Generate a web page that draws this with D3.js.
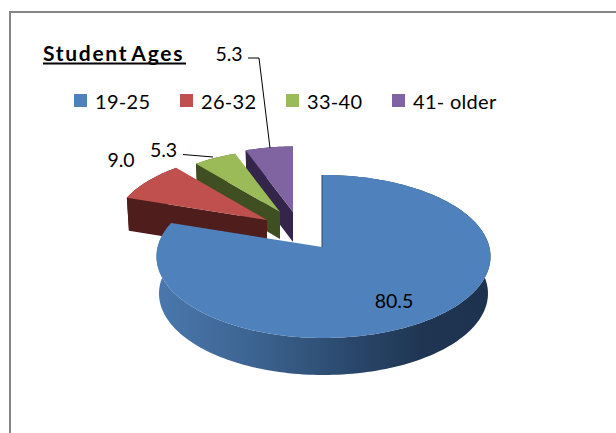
<!DOCTYPE html>
<html><head><meta charset="utf-8">
<script src="https://cdnjs.cloudflare.com/ajax/libs/d3/7.8.5/d3.min.js"></script>
<style>html,body{margin:0;padding:0;background:#fff}svg{display:block}text{font-family:Lato,sans-serif;fill:#000}</style>
</head><body><svg id="c" width="616" height="433"></svg>
<script>
const titleText = "Student Ages";
const categories = ["19-25","26-32","33-40","41- older"];
const values = [80.5,9.0,5.3,5.3];
const labels = ["80.5","9.0","5.3","5.3"];
const topColors = ["#4f81bd","#c0504d","#9bbb59","#8064a2"];
const sideColors = ["#1f3552","#4f1d1b","#3f4f21","#33264a"];
// per-slice explosion layout
const explodeDx = [0,-55,-42,-29];
const explodeDy = [0,-27,-35,-35];
const sliceScale = [1,0.93,0.86,0.91];
const sliceDepth = [37,33,27,30];
const apex = {x:322,y:247}, ell = {x:323.5,y:256.5,rx:167,ry:81.5}, tilt = 0.45;

const svg = d3.select("#c");
const defs = svg.append("defs");
const grad = defs.append("linearGradient").attr("id","blueSide").attr("x1",0).attr("x2",1).attr("y1",0).attr("y2",0);
[[0,"#4a78ad"],[0.3,"#3c6390"],[0.6,"#294669"],[0.8,"#1f3552"],[1,"#1d324e"]].forEach(s=>grad.append("stop").attr("offset",s[0]).attr("stop-color",s[1]));

// chart frame
svg.append("path").attr("d","M10,433V12H616").attr("fill","none").attr("stroke","#868686").attr("stroke-width",2);

// pie layout through d3
const pie = d3.pie().sort(null).value(d=>d);
const arcs = pie(values);

function rim(a){ // ray from apex to the perspective ellipse, relative to apex
  const dx=Math.sin(a), dy=-Math.cos(a)*tilt;
  const ox=apex.x-ell.x, oy=apex.y-ell.y;
  const A=dx*dx/(ell.rx*ell.rx)+dy*dy/(ell.ry*ell.ry);
  const B=2*(ox*dx/(ell.rx*ell.rx)+oy*dy/(ell.ry*ell.ry));
  const C=ox*ox/(ell.rx*ell.rx)+oy*oy/(ell.ry*ell.ry)-1;
  const t=(-B+Math.sqrt(B*B-4*A*C))/(2*A);
  return [t*dx, t*dy];
}
const line = d3.line();
function slicePoints(d,i){
  const s=sliceScale[i], ax=apex.x+explodeDx[i], ay=apex.y+explodeDy[i];
  const n=Math.max(8,Math.ceil((d.endAngle-d.startAngle)*40));
  const pts=d3.range(n+1).map(k=>{
    const a=d.startAngle+(d.endAngle-d.startAngle)*k/n, r=rim(a);
    return [ax+r[0]*s, ay+r[1]*s];
  });
  return {apex:[ax,ay],rim:pts};
}
const drop=(p,i,ax)=>[ax+(p[0]-ax)*0.985,p[1]+sliceDepth[i]];
// draw back to front: purple, green, red, blue
[3,2,1,0].forEach(i=>{
  const d=arcs[i], g=svg.append("g"), P=slicePoints(d,i), ax=P.apex[0];
  const bottom=P.rim.map(p=>drop(p,i,ax));
  g.append("path").attr("d",line(P.rim.concat(bottom.slice().reverse()))+"Z")
    .attr("fill",i===0?"url(#blueSide)":sideColors[i]);
  if(i>0){ // cut face
    const f=[P.rim[0],P.apex,[P.apex[0],P.apex[1]+sliceDepth[i]],drop(P.rim[0],i,ax)];
    g.append("path").attr("d",line(f)+"Z").attr("fill",sideColors[i]);
  }
  g.append("path").attr("d",line([P.apex].concat(P.rim))+"Z").attr("fill",topColors[i]);
  if(i===0){
    g.append("path").attr("d",line([P.rim[0],P.apex])).attr("stroke","#2a4668").attr("stroke-width",1).attr("fill","none");
  }
});

// leader lines
const leader=d3.line();
svg.append("path").attr("d",leader([[248,58],[259,58],[270,148]])).attr("fill","none").attr("stroke","#000");
svg.append("path").attr("d",leader([[183,154.5],[213,157]])).attr("fill","none").attr("stroke","#000");

// data labels
const labelPos=[[394,308],[121,167],[163.5,157],[229,61]];
labels.forEach((t,i)=>svg.append("text").attr("x",labelPos[i][0]).attr("y",labelPos[i][1]).attr("text-anchor","middle").attr("font-size",19.5).text(t));

// title
svg.append("text").attr("x",43).attr("y",61).attr("font-size",21).attr("font-weight",700).attr("letter-spacing",1.7).attr("word-spacing",-3).text(titleText);
svg.append("line").attr("x1",43).attr("x2",186).attr("y1",63.5).attr("y2",63.5).attr("stroke","#000").attr("stroke-width",2);

// legend
const legendX=d3.scalePoint().domain(categories).range([74,392]);
categories.forEach((c,i)=>{
  const x=legendX(c);
  svg.append("rect").attr("x",x).attr("y",94).attr("width",13).attr("height",13).attr("fill",topColors[i]);
  svg.append("text").attr("x",x+21).attr("y",109).attr("font-size",20).attr("letter-spacing",0.3).text(c);
});
</script></body></html>
